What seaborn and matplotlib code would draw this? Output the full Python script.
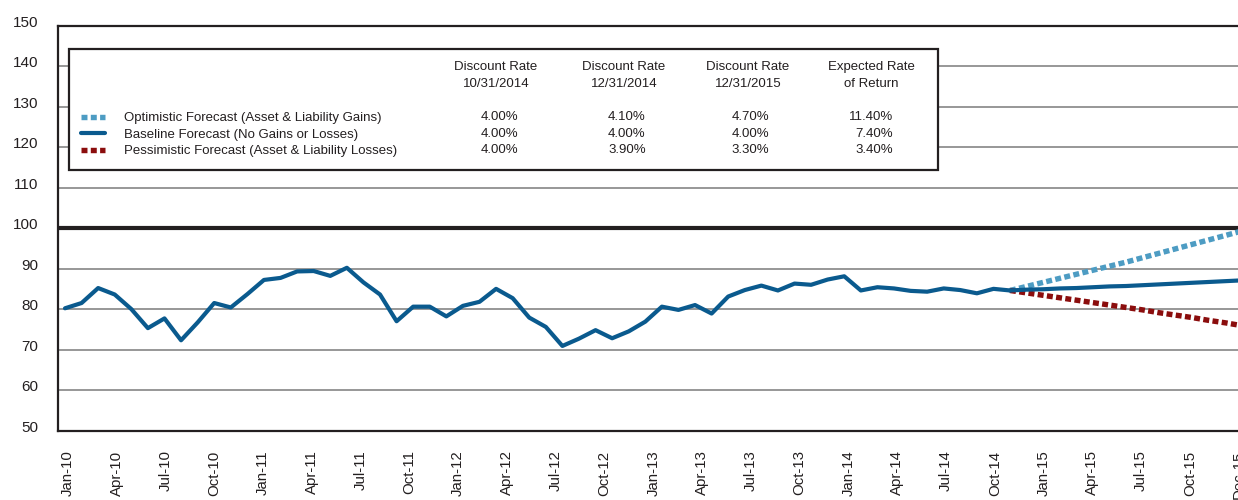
import numpy as np
import pandas as pd
import matplotlib
matplotlib.use("Agg")
import matplotlib.pyplot as plt
import seaborn as sns
from matplotlib.lines import Line2D
from matplotlib.patches import Rectangle
from matplotlib.transforms import ScaledTranslation

# ---------------- data ----------------
# monthly funded-status index, Jan-10 .. Oct-14 (actual)
history = [80.3, 81.6, 85.3, 83.7, 80.1, 75.4, 77.8, 72.4, 76.8, 81.6, 80.5, 83.8,
           87.3, 87.8, 89.4, 89.5, 88.3, 90.3, 86.7, 83.7, 77.1, 80.7, 80.7, 78.3,
           80.9, 81.9, 85.1, 82.8, 78.0, 75.7, 71.0, 72.8, 74.9, 72.9, 74.6, 77.0,
           80.7, 79.9, 81.1, 79.0, 83.2, 84.8, 85.9, 84.7, 86.4, 86.1, 87.4, 88.2,
           84.7, 85.5, 85.2, 84.6, 84.4, 85.2, 84.8, 84.0, 85.1, 84.7]
# forecasts Oct-14 .. Dec-15
optimistic = [84.7, 85.7, 86.7, 87.7, 88.7, 89.7, 90.7, 91.7, 92.8, 93.9, 95.0, 96.1, 97.2, 98.3, 99.4]
baseline = [84.7, 84.9, 85.0, 85.2, 85.3, 85.5, 85.7, 85.8, 86.0, 86.2, 86.4, 86.6, 86.8, 87.0, 87.2]
pessimistic = [84.7, 84.1, 83.5, 82.9, 82.3, 81.7, 81.1, 80.5, 79.9, 79.2, 78.6, 78.0, 77.3, 76.7, 76.0]

full_funding = 100

tick_labels = ["Jan-10", "Apr-10", "Jul-10", "Oct-10", "Jan-11", "Apr-11", "Jul-11", "Oct-11",
               "Jan-12", "Apr-12", "Jul-12", "Oct-12", "Jan-13", "Apr-13", "Jul-13", "Oct-13",
               "Jan-14", "Apr-14", "Jul-14", "Oct-14", "Jan-15", "Apr-15", "Jul-15", "Oct-15",
               "Dec-15"]
y_ticks = list(range(50, 151, 10))

series_names = ["Optimistic Forecast (Asset & Liability Gains)",
                "Baseline Forecast (No Gains or Losses)",
                "Pessimistic Forecast (Asset & Liability Losses)"]
table_headers = [("Discount Rate", "10/31/2014"), ("Discount Rate", "12/31/2014"),
                 ("Discount Rate", "12/31/2015"), ("Expected Rate", "of Return")]
table_values = [["4.00%", "4.10%", "4.70%", "11.40%"],
                ["4.00%", "4.00%", "4.00%", "7.40%"],
                ["4.00%", "3.90%", "3.30%", "3.40%"]]

# ---------------- style ----------------
sns.set_style("white")
plt.rcParams["font.family"] = ["Liberation Sans", "DejaVu Sans"]
plt.rcParams["lines.scale_dashes"] = False

DARK = "#231f20"
BLUE = "#0a5a8e"
LIGHT = "#4d9cc3"
RED = "#8b0d0d"
GRID = "#8f8f8f"

FIG_W, FIG_H = 1238, 500
fig = plt.figure(figsize=(FIG_W / 100, FIG_H / 100), dpi=100)
fig.patch.set_facecolor("white")

# axes geometry (pixels); the right side runs off the canvas, as in the source
AX_L, AX_R, AX_T, AX_B = 58, 1250, 26, 431
ax = fig.add_axes([AX_L / FIG_W, 1 - AX_B / FIG_H, (AX_R - AX_L) / FIG_W, (AX_B - AX_T) / FIG_H])

hist_df = pd.DataFrame({"t": np.arange(len(history)), "v": history})
start = len(history) - 1
fc_t = np.arange(start, start + len(baseline))
opt_df = pd.DataFrame({"t": fc_t, "v": optimistic})
base_df = pd.DataFrame({"t": fc_t, "v": baseline})
pes_df = pd.DataFrame({"t": fc_t, "v": pessimistic})

dotted = (0, (4.3, 2.4))
ax.axhline(full_funding, color=DARK, lw=3.0, zorder=2)
sns.lineplot(data=opt_df, x="t", y="v", ax=ax, color=LIGHT, lw=3.9, linestyle=dotted,
             dash_capstyle="butt", zorder=3)
sns.lineplot(data=pes_df, x="t", y="v", ax=ax, color=RED, lw=3.9, linestyle=dotted,
             dash_capstyle="butt", zorder=3)
sns.lineplot(data=base_df, x="t", y="v", ax=ax, color=BLUE, lw=3.0, zorder=4)
sns.lineplot(data=hist_df, x="t", y="v", ax=ax, color=BLUE, lw=3.0, zorder=4)

# x scale for data: first month at px 65, 16.58 px per month
ax.set_xlim((AX_L - 65) / 16.58, (AX_R - 65) / 16.58)
ax.set_ylim(50, 150)
ax.set_yticks(y_ticks)
ax.set_xticks([])
ax.set_xlabel("")
ax.set_ylabel("")
ax.yaxis.grid(True, color=GRID, lw=1.3)
ax.xaxis.grid(False)
ax.set_axisbelow(True)
ax.tick_params(axis="y", length=0, pad=14, labelsize=11, labelcolor=DARK)
for lab in ax.get_yticklabels():
    lab.set_transform(lab.get_transform() + ScaledTranslation(0, 3.5 / 72, fig.dpi_scale_trans))
for side in ["left", "top", "bottom"]:
    ax.spines[side].set_color(DARK)
    ax.spines[side].set_linewidth(1.6)
ax.spines["right"].set_visible(False)

# category axis for the month labels
ax2 = ax.twiny()
ax2.set_xlim((AX_L - 68) / 48.78, (AX_R - 68) / 48.78)
ax2.set_xticks(range(len(tick_labels)))
ax2.set_xticklabels(tick_labels, rotation=90)
ax2.xaxis.set_ticks_position("bottom")
ax2.tick_params(axis="x", length=0, pad=14, labelsize=10.8, labelcolor=DARK)
for s in ax2.spines.values():
    s.set_visible(False)

# legend / table box
box = Rectangle((69 / FIG_W, 1 - 170 / FIG_H), (938 - 69) / FIG_W, (170 - 49) / FIG_H,
                transform=fig.transFigure, facecolor="white", edgecolor=DARK, lw=1.6, zorder=2)
fig.add_artist(box)

handles = [Line2D([], [], color=LIGHT, lw=3.9, linestyle=dotted, dash_capstyle="butt"),
           Line2D([], [], color=BLUE, lw=3.0, solid_capstyle="round"),
           Line2D([], [], color=RED, lw=3.9, linestyle=dotted, dash_capstyle="butt")]
fig.legend(handles, series_names, loc="upper left", bbox_to_anchor=(81 / FIG_W, 1 - 112 / FIG_H),
           frameon=False, fontsize=9.5, handlelength=1.85, handletextpad=1.4,
           labelspacing=0.32, borderpad=0, borderaxespad=0, labelcolor=DARK)

head_x = [496, 624, 748, 871]
val_x = [500, 627, 750, 893]
val_ha = ["center", "center", "center", "right"]
for cx, (h1, h2) in zip(head_x, table_headers):
    fig.text(cx / FIG_W, 1 - 67 / FIG_H, h1, ha="center", va="center", fontsize=9.5, color=DARK, zorder=3)
    fig.text(cx / FIG_W, 1 - 84 / FIG_H, h2, ha="center", va="center", fontsize=9.5, color=DARK, zorder=3)
for row, ry in zip(table_values, [117, 134, 150]):
    for val, cx, ha in zip(row, val_x, val_ha):
        fig.text(cx / FIG_W, 1 - ry / FIG_H, val, ha=ha, va="center", fontsize=9.5, color=DARK, zorder=3)

fig.savefig("out.png", dpi=100)
